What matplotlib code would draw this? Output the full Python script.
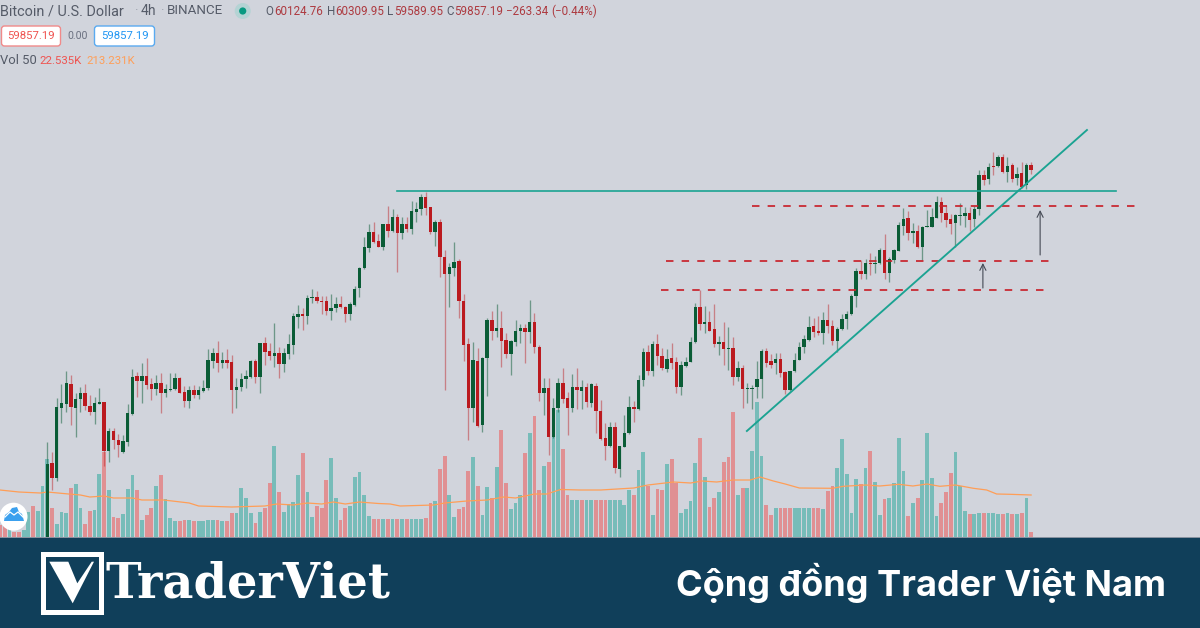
"""BTC/USD 4h candles with volume, trend lines and the TraderViet banner."""
import matplotlib
matplotlib.use('Agg')
import matplotlib.pyplot as plt
import matplotlib.patches as mpatches
import numpy as np

BG = '#d1d4dc'
BAND = '#103f5a'
UP = '#0a5c36'
DOWN = '#bb1a1f'
VOL_UP = '#26a69a'
VOL_DOWN = '#ef5350'
TEAL = '#1ba392'
DASH = '#c8232c'
GREY = '#555b68'

# candles, price as height above the bottom of the chart pane
opens = [-3, 74, 59, 129, 133, 153, 129, 138, 144, 131,
         125, 133, 135, 86, 106, 97, 85, 95, 123, 161,
         156, 161, 153, 148, 154, 144, 147, 148, 159, 145,
         136, 147, 142, 146, 149, 176, 184, 174, 177, 175,
         147, 150, 158, 160, 176, 160, 194, 186, 181, 184,
         173, 183, 192, 220, 223, 221, 239, 240, 236, 236,
         226, 229, 233, 230, 223, 232, 249, 269, 289, 305,
         296, 290, 313, 306, 320, 304, 313, 308, 325, 328,
         340, 330, 305, 315, 280, 263, 269, 276, 236, 193,
         129, 176, 112, 179, 217, 206, 209, 197, 183, 195,
         206, 209, 205, 215, 190, 144, 149, 100, 129, 154,
         139, 129, 150, 146, 150, 134, 151, 126, 99, 91,
         110, 68, 90, 104, 130, 128, 157, 185, 166, 193,
         181, 168, 179, 175, 150, 171, 175, 195, 230, 213,
         215, 208, 193, 195, 188, 189, 160, 169, 148, 148,
         150, 158, 186, 176, 174, 178, 165, 147, 166, 177,
         190, 197, 211, 206, 204, 217, 211, 196, 208, 218,
         223, 241, 266, 263, 274, 273, 274, 287, 264, 277,
         286, 311, 319, 304, 306, 290, 310, 310, 319, 335,
         324, 318, 314, 321, 321, 324, 318, 328, 362, 358,
         371, 371, 380, 365, 372, 359, 364, 352, 372]
closes = [73, 59, 130, 134, 154, 130, 138, 144, 131, 125,
          134, 135, 86, 106, 97, 92, 96, 124, 160, 156,
          161, 152, 148, 154, 144, 148, 148, 159, 144, 136,
          147, 142, 147, 149, 177, 184, 174, 177, 174, 147,
          150, 158, 161, 176, 160, 194, 185, 181, 184, 173,
          184, 193, 221, 223, 221, 239, 240, 236, 235, 226,
          229, 233, 230, 223, 233, 248, 269, 290, 305, 295,
          290, 313, 306, 320, 304, 313, 308, 326, 328, 340,
          329, 305, 315, 280, 263, 270, 275, 236, 192, 129,
          177, 111, 179, 217, 206, 209, 196, 183, 196, 206,
          209, 205, 215, 190, 144, 149, 100, 129, 154, 138,
          129, 150, 147, 150, 135, 153, 126, 98, 91, 110,
          69, 91, 104, 130, 128, 157, 185, 166, 193, 181,
          169, 178, 174, 150, 172, 175, 195, 230, 213, 215,
          206, 193, 195, 188, 189, 160, 169, 148, 149, 149,
          158, 186, 174, 172, 178, 164, 147, 166, 177, 190,
          198, 210, 205, 204, 217, 211, 196, 208, 218, 223,
          241, 266, 263, 274, 273, 274, 287, 264, 278, 287,
          312, 318, 304, 306, 290, 310, 311, 320, 335, 324,
          317, 313, 322, 322, 324, 317, 328, 362, 357, 370,
          370, 380, 365, 371, 358, 363, 350, 372, 367]
highs = [95, 85, 139, 153, 166, 162, 144, 150, 153, 142,
         140, 149, 135, 109, 109, 103, 102, 133, 168, 165,
         174, 179, 159, 162, 164, 153, 164, 164, 160, 151,
         151, 152, 151, 157, 188, 189, 196, 185, 188, 182,
         159, 164, 167, 177, 178, 194, 200, 194, 214, 190,
         189, 203, 224, 232, 229, 242, 248, 246, 241, 241,
         243, 240, 241, 231, 235, 251, 270, 300, 313, 315,
         303, 313, 331, 328, 323, 320, 320, 336, 335, 343,
         345, 330, 317, 318, 287, 274, 295, 278, 243, 199,
         195, 189, 180, 219, 226, 233, 226, 204, 197, 217,
         213, 213, 237, 224, 192, 159, 159, 139, 159, 169,
         145, 163, 169, 157, 154, 154, 154, 137, 114, 115,
         115, 91, 122, 141, 136, 162, 189, 192, 196, 203,
         189, 188, 194, 180, 176, 180, 200, 234, 247, 231,
         226, 233, 201, 215, 210, 200, 176, 172, 154, 152,
         176, 188, 189, 183, 184, 184, 166, 166, 184, 195,
         202, 221, 219, 221, 225, 233, 217, 210, 223, 226,
         243, 269, 277, 278, 284, 281, 289, 303, 280, 288,
         315, 329, 326, 314, 312, 311, 327, 329, 341, 340,
         332, 323, 323, 334, 330, 330, 331, 367, 367, 374,
         385, 382, 383, 380, 374, 370, 375, 374, 375]
lows = [-3, 47, 56, 114, 125, 112, 100, 125, 127, 122,
        113, 133, 71, 75, 88, 80, 84, 91, 122, 140,
        134, 148, 137, 142, 124, 140, 146, 147, 144, 130,
        129, 139, 138, 145, 147, 169, 165, 169, 169, 124,
        129, 146, 149, 159, 154, 144, 172, 177, 170, 159,
        165, 178, 183, 209, 207, 213, 234, 234, 223, 222,
        217, 225, 229, 215, 217, 231, 240, 268, 285, 294,
        290, 287, 300, 305, 265, 298, 305, 303, 315, 322,
        322, 303, 291, 260, 147, 230, 261, 219, 176, 97,
        115, 110, 105, 141, 197, 200, 170, 179, 162, 191,
        194, 174, 194, 184, 136, 122, 82, 99, 125, 134,
        102, 125, 128, 128, 130, 130, 104, 97, 77, 90,
        64, 60, 90, 103, 115, 127, 151, 162, 161, 172,
        167, 165, 168, 144, 142, 170, 175, 194, 207, 204,
        206, 190, 182, 172, 167, 152, 156, 129, 134, 128,
        139, 139, 170, 169, 163, 160, 143, 146, 165, 177,
        184, 196, 200, 202, 193, 204, 192, 185, 207, 208,
        222, 230, 258, 258, 262, 264, 273, 258, 255, 274,
        286, 302, 297, 294, 289, 277, 310, 310, 319, 315,
        310, 303, 290, 312, 310, 306, 310, 322, 352, 353,
        362, 370, 364, 355, 355, 352, 349, 348, 363]

# volume starts ten bars before the first visible candle
volumes = [12, 14, 9, 5, 5, 7, 25, 31, 26, 51,
           78, 29, 13, 25, 24, 49, 53, 29, 13, 26,
           27, 63, 85, 47, 20, 19, 23, 48, 62, 47,
           17, 22, 29, 51, 62, 38, 19, 16, 16, 17,
           17, 16, 16, 16, 17, 17, 17, 16, 16, 24,
           24, 49, 39, 24, 14, 25, 29, 54, 91, 45,
           25, 33, 35, 62, 84, 45, 20, 31, 29, 57,
           79, 39, 17, 29, 31, 60, 65, 42, 21, 18,
           18, 18, 18, 18, 18, 18, 18, 18, 18, 18,
           19, 34, 36, 68, 81, 42, 20, 28, 30, 66,
           80, 51, 22, 50, 39, 70, 107, 54, 28, 34,
           42, 84, 104, 121, 47, 71, 75, 102, 127, 88,
           42, 37, 37, 37, 37, 37, 37, 37, 37, 37, 37, 37,
           32, 47, 42, 67, 85, 51, 22, 48,
           47, 73, 78, 54, 24, 28, 36, 74, 99, 60,
           30, 39, 45, 75, 80, 125, 42, 49, 49, 86,
           135, 81, 32, 22, 29, 29, 29, 29, 29, 29,
           29, 29, 29, 29, 28, 46, 51, 69, 98, 63,
           24, 58, 53, 69, 86, 55, 22, 38, 39, 54,
           99, 66, 21, 34, 39, 57, 104, 59, 21, 34,
           45, 64, 85, 51, 26, 23, 23, 24, 24, 24,
           24, 23, 23, 24, 23, 23, 24, 39, 5]
volume_sides = ('r r t r r t t r t t '
                't r t t t r t t r r t t r t r r t t t r '
                't r r t r t t t r r t r t t t t r t r r '
                't t t t r t r r t r t t t t r t t r r r '
                't t r r t t t t t r r t r t r t r t t t '
                'r r t r r t t r r r t r t t r t r r t t '
                't r t r r t r t t r r t t r t t r r r t t t '
                't t r t t r t r r t r r t t t t r t '
                'r r t r r r t r t t t t r r t r r r t t '
                't t r r t r r t t t t t r t r t t r t t '
                't t r t r t t t t r r r t t t r t t r t '
                't t r t r t r t r').split()

# moving average of volume, read at a few bars
ma_bars = [-10, -6, -1.5, 0, 4.5, 7, 9, 12, 14, 18, 20, 24.6, 30, 32, 39, 46, 48.5,
           52, 55, 58, 60.5, 63, 66, 70, 72.5, 74.6, 81.7, 84, 88.7, 93, 96.5, 99,
           103, 105.6, 108.5, 112.7, 117, 124, 127, 132.4, 136, 138.4, 141.5, 145,
           148.6, 150.7, 153.5, 156, 159, 166, 168.3, 173, 176, 180, 183, 186,
           188.7, 192, 195.8, 198.6, 200.7, 203.5, 208]
ma_values = [47, 45, 44, 45, 43, 42, 40, 41, 39, 39, 37, 37, 34, 31, 30, 31, 33,
             32, 34, 33, 35, 33, 35, 33.5, 33, 31, 32, 34, 36, 37, 40, 39,
             43, 43, 47.5, 47, 47, 49, 52, 55, 54, 56, 55, 57,
             57, 60, 56, 53, 49, 48.7, 50.7, 52, 51, 52.7, 51, 53,
             50.7, 52, 48.7, 47, 43, 42.7, 42]

# drawn lines on the chart: (bar from, bar to, level)
resistance = (74, 226, 346)
dashed_levels = [(149, 230, 331), (130.8, 212, 276), (129.7, 211, 247)]
trend_bars = [147.9, 219.8]
trend_levels = [106, 407]
# (bar, tail level, tip level)
arrows = [(209.9, 282, 327), (197.8, 249, 274)]

title_parts = [('Bitcoin / U.S. Dollar', 0.5, 10.4, GREY), ('·', 134, 9.6, '#9aa0ab'),
               ('4h', 141, 10, GREY), ('·', 160, 9.6, '#9aa0ab'), ('BINANCE', 167, 9.6, GREY)]
ohlc_parts = [('O', 265, GREY), ('60124.76', 274.3, '#ad3a40'),
              ('H', 326.5, GREY), ('60309.95', 335, '#ad3a40'),
              ('L', 387, GREY), ('59589.95', 394, '#ad3a40'),
              ('C', 446, GREY), ('59857.19', 454, '#ad3a40'),
              ('\u2212263.34', 506, '#ad3a40'), ('(\u22120.44%)', 551, '#ad3a40')]
vol_parts = [('Vol 50', 0.5, 9.4, GREY), ('22.535K', 39.5, 8.2, '#ef5350'),
             ('213.231K', 86, 8.2, '#ff9e57')]

plt.rcParams['font.family'] = ['Roboto', 'DejaVu Sans']

fig = plt.figure(figsize=(12, 6.28), dpi=100, facecolor=BG)

# --- chart pane ---
ax = fig.add_axes([0, 91 / 628, 1, 537 / 628], facecolor=BG)
ax.set_xlim(-10, 243.7)
ax.set_ylim(0, 537)
ax.axis('off')

vol_x = np.arange(-10, len(volumes) - 10)
vol_colors = [VOL_UP if s == 't' else VOL_DOWN for s in volume_sides]
ax.bar(vol_x, volumes, width=0.8, color=vol_colors, alpha=0.52, zorder=1)
ax.plot(ma_bars, ma_values, color='#ff9e57', lw=0.9, zorder=2)

x = np.arange(len(opens))
o = np.array(opens)
c = np.array(closes)
up = c >= o
ax.vlines(x[up], np.array(lows)[up], np.array(highs)[up], color=UP, alpha=0.5, lw=0.95, zorder=3)
ax.vlines(x[~up], np.array(lows)[~up], np.array(highs)[~up], color=DOWN, alpha=0.45, lw=0.95, zorder=3)
ax.bar(x, np.maximum(np.abs(c - o), 1.5), bottom=np.minimum(o, c), width=0.72,
       color=[UP if u else DOWN for u in up], zorder=4)

ax.plot(resistance[:2], [resistance[2]] * 2, color=TEAL, lw=1.2, zorder=5)
for start, end, level in dashed_levels:
    ax.plot([start, end], [level, level], color=DASH, lw=1.25,
            linestyle=(0, (4.3, 4.7)), zorder=5)
ax.plot(trend_bars, trend_levels, color=TEAL, lw=1.35, zorder=5)
for bar, tail, tip in arrows:
    ax.annotate('', xy=(bar, tip), xytext=(bar, tail),
                arrowprops=dict(arrowstyle='->', color='#454a55', lw=0.8,
                                mutation_scale=11, shrinkA=0, shrinkB=0), zorder=5)

# --- header, banner and logos, laid out in image pixels ---
top = fig.add_axes([0, 0, 1, 1], facecolor='none')
top.set_xlim(0, 1200)
top.set_ylim(628, 0)
top.axis('off')

for text, px, size, col in title_parts:
    top.text(px, 11, text, color=col, fontsize=size, va='center', ha='left')
for text, px, col in ohlc_parts:
    top.text(px, 11.5, text, color=col, fontsize=8.4, va='center', ha='left')
top.add_patch(mpatches.Circle((242.7, 11), 8, color='#b4d3d4', lw=0))
top.add_patch(mpatches.Circle((242.7, 11), 3.6, color='#089981', lw=0))

top.add_patch(mpatches.FancyBboxPatch((1.5, 26), 59, 20, boxstyle='round,pad=0,rounding_size=3',
                                      fc='white', ec='#f08a8a', lw=1))
top.text(31, 36, '59857.19', color='#ef5350', fontsize=8.2, ha='center', va='center')
top.text(77.5, 36, '0.00', color='#6a7080', fontsize=7.6, ha='center', va='center')
top.add_patch(mpatches.FancyBboxPatch((94.5, 26), 60, 20, boxstyle='round,pad=0,rounding_size=3',
                                      fc='white', ec='#5aaaf0', lw=1))
top.text(124.5, 36, '59857.19', color='#2196f3', fontsize=8.2, ha='center', va='center')
for text, px, size, col in vol_parts:
    top.text(px, 60.5, text, color=col, fontsize=size, va='center', ha='left')

top.add_patch(mpatches.Rectangle((0, 537), 1200, 91, color=BAND, lw=0))
top.plot([0, 1200], [536.5, 536.5], color='#8c95a3', lw=0.7)

# small cloud badge
top.add_patch(mpatches.Circle((13.5, 516.7), 14, color='white', lw=0))
cloud = [(4, 521), (5, 515), (9, 512), (12, 508), (17, 507), (19, 512), (22, 514), (24, 521)]
top.add_patch(mpatches.Polygon(cloud, closed=True, color='#3ba0ee', lw=0))
top.plot([5, 10, 14, 18, 23], [517, 512, 515, 512, 517], color='white', lw=0.9)

# TraderViet logo
top.add_patch(mpatches.Rectangle((42.5, 553.5), 58, 58, fc='none', ec='white', lw=3.6))
top.add_patch(mpatches.Polygon([(49.3, 561.7), (68.3, 561.7), (77.3, 583.3), (91.7, 561.7),
                                (94, 561.7), (72.7, 603.3)], closed=True, color='white', lw=0))
top.text(106, 598, 'TraderViet', color='white', fontsize=34.5, fontweight='bold',
         family='DejaVu Serif', ha='left', va='baseline')
top.text(1166.5, 582.5, 'Cộng đồng Trader Việt Nam', color='white', fontsize=26,
         fontweight='bold', family='Inter', ha='right', va='center')

fig.savefig('out.png', dpi=100, facecolor=BG)
